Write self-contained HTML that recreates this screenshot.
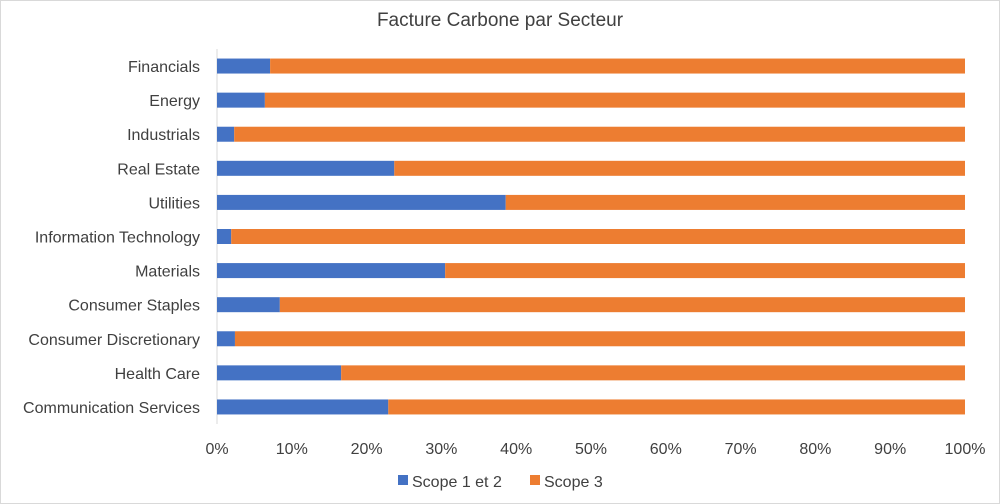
<!DOCTYPE html>
<html><head><meta charset="utf-8"><style>
body{margin:0;background:#fff;}
svg{display:block;font-family:"Liberation Sans",sans-serif;}
</style></head><body>
<svg id="chart" width="1000" height="504">
<rect x="0.5" y="0.5" width="999" height="503" fill="#fff" stroke="#d9d9d9"/>
<text x="500" y="26" text-anchor="middle" font-size="19" fill="#404040">Facture Carbone par Secteur</text>
<g id="grid"></g><g id="bars"></g><g id="labels"></g>
<g>
<rect x="398" y="475" width="10" height="10" fill="#4472c4"/>
<text x="412" y="487" font-size="16" fill="#404040">Scope 1 et 2</text>
<rect x="530" y="475" width="10" height="10" fill="#ed7d31"/>
<text x="544" y="487" font-size="16" fill="#404040">Scope 3</text>
</g>
</svg>
<script>
const categories=["Financials","Energy","Industrials","Real Estate","Utilities","Information Technology","Materials","Consumer Staples","Consumer Discretionary","Health Care","Communication Services"];
const scope12=[7.1,6.4,2.3,23.7,38.6,1.9,30.5,8.4,2.4,16.6,22.9];
const scope3=[92.9,93.6,97.7,76.3,61.4,98.1,69.5,91.6,97.6,83.4,77.1];
const ticks=[0,10,20,30,40,50,60,70,80,90,100];
const NS="http://www.w3.org/2000/svg";
const x0=217,x1=965,yTop=49,yBot=424;
const xs=v=>x0+(x1-x0)*v/100;
const band=(yBot-yTop)/categories.length;
const yc=i=>yTop+band*(i+0.5);
function mk(tag,attrs,parent){const e=document.createElementNS(NS,tag);for(const k in attrs)e.setAttribute(k,attrs[k]);document.getElementById(parent).appendChild(e);return e;}
ticks.forEach((t,i)=>{
 const tx=mk("text",{x:xs(t),y:454,"text-anchor":"middle","font-size":"16",fill:"#404040"},"labels");
 
 
 tx.textContent=t+"%";
});
const ax=mk("line",{x1:x0,x2:x0,y1:yTop,y2:yBot,stroke:"#d9d9d9"},"grid");


const bh=15;
categories.forEach((c,i)=>{
 const y=yc(i)-bh/2;
 const b1=mk("rect",{x:xs(0),y:y,width:xs(scope12[i])-xs(0),height:bh,fill:"#4472c4"},"bars");
 
 
 const b2=mk("rect",{x:xs(scope12[i]),y:y,width:xs(scope12[i]+scope3[i])-xs(scope12[i]),height:bh,fill:"#ed7d31"},"bars");
 
 
 const l=mk("text",{x:200,y:yc(i)+6,"text-anchor":"end","font-size":"16",fill:"#404040"},"labels");
 
 
 l.textContent=c;
});
</script>
</body></html>
